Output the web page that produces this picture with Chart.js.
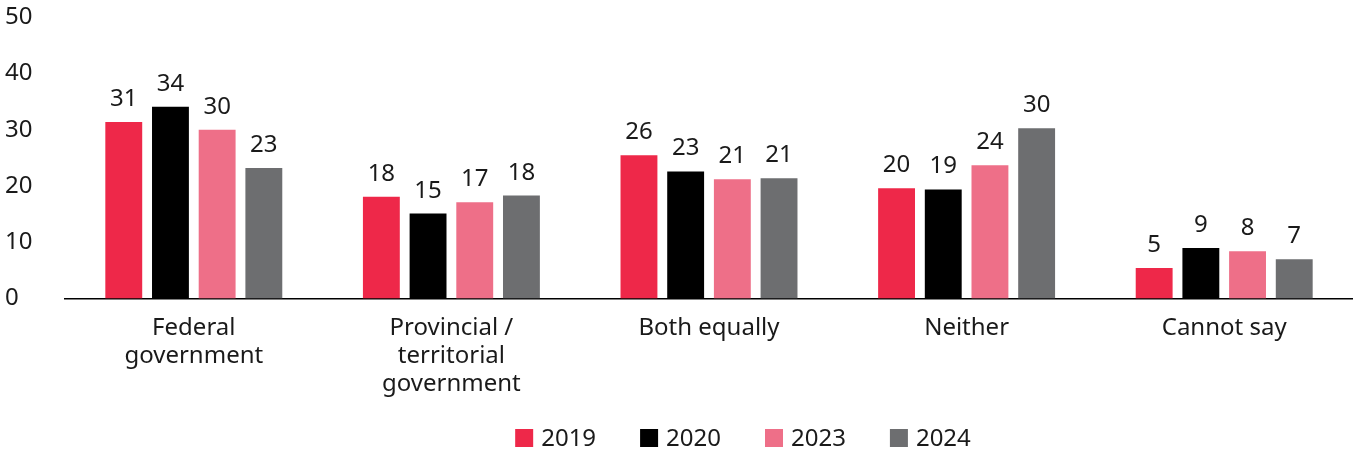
<!DOCTYPE html>
<html>
<head>
<meta charset="utf-8">
<script src="https://cdn.jsdelivr.net/npm/chart.js@4"></script>
<style>
    html, body { margin: 0; padding: 0; background: #fff; }
    .wrap { width: 1353px; height: 453px; }
</style>
</head>
<body>
<div class="wrap"><canvas id="govChart" width="1353" height="453"></canvas></div>
<script>
const categories = [
    ['Federal', 'government'],
    ['Provincial /', 'territorial', 'government'],
    'Both equally',
    'Neither',
    'Cannot say'
];
const years = ['2019', '2020', '2023', '2024'];
const values2019 = [31.4, 18.1, 25.5, 19.6, 5.4];
const values2020 = [34.1, 15.1, 22.6, 19.4, 9.0];
const values2023 = [30.0, 17.1, 21.2, 23.7, 8.4];
const values2024 = [23.2, 18.3, 21.4, 30.3, 7.0];
const yTicks = [0, 10, 20, 30, 40, 50];

const colors = ['#ee2849', '#000000', '#ee6f88', '#6d6e70'];
const fontFamily = '"Noto Sans", sans-serif';
const textColor = '#1a1a1a';

// value labels over each bar
const barLabels = {
    id: 'barLabels',
    afterDatasetsDraw(chart) {
        const ctx = chart.ctx;
        ctx.save();
        ctx.font = `24px ${fontFamily}`;
        ctx.fillStyle = textColor;
        ctx.textAlign = 'center';
        ctx.textBaseline = 'alphabetic';
        chart.data.datasets.forEach((ds, i) => {
            const meta = chart.getDatasetMeta(i);
            meta.data.forEach((bar, j) => {
                ctx.fillText(Math.round(ds.data[j]), bar.x, bar.y - 16);
            });
        });
        ctx.restore();
    }
};

// legend drawn by hand: the original spaces items wider than chart.js does
const bottomLegend = {
    id: 'bottomLegend',
    afterDraw(chart) {
        const ctx = chart.ctx;
        const box = 18, textGap = 8, itemGap = 44;
        const centerX = 743, centerY = 438;
        ctx.save();
        ctx.font = `24px ${fontFamily}`;
        ctx.textBaseline = 'middle';
        ctx.textAlign = 'left';
        const widths = chart.data.datasets.map(ds => box + textGap + ctx.measureText(ds.label).width);
        const total = widths.reduce((a, b) => a + b, 0) + itemGap * (widths.length - 1);
        let x = centerX - total / 2;
        chart.data.datasets.forEach((ds, i) => {
            ctx.fillStyle = ds.backgroundColor;
            ctx.fillRect(x, centerY - box / 2, box, box);
            ctx.fillStyle = textColor;
            ctx.fillText(ds.label, x + box + textGap, centerY + 1);
            x += widths[i] + itemGap;
        });
        ctx.restore();
    }
};

const ctx = document.getElementById('govChart').getContext('2d');
const govChart = new Chart(ctx, {
    type: 'bar',
    data: {
        labels: categories,
        datasets: [values2019, values2020, values2023, values2024].map((vals, i) => ({
            label: years[i],
            data: vals,
            backgroundColor: colors[i],
            borderWidth: 0,
            categoryPercentage: 0.725,
            barPercentage: 0.79
        }))
    },
    options: {
        responsive: false,
        animation: false,
        layout: {
            padding: { top: 6, left: 5, right: 0, bottom: 47 }
        },
        plugins: {
            legend: { display: false },
            tooltip: { enabled: false }
        },
        scales: {
            x: {
                grid: { display: false },
                border: { display: true, color: '#000', width: 1.5 },
                ticks: {
                    color: textColor,
                    maxRotation: 0,
                    autoSkip: false,
                    padding: 8,
                    font: { family: fontFamily, size: 24, lineHeight: 1.16 }
                }
            },
            y: {
                min: 0,
                max: 50,
                grid: { display: false },
                border: { display: false },
                afterBuildTicks(axis) {
                    axis.ticks = yTicks.map(v => ({ value: v }));
                },
                afterFit(axis) {
                    axis.width = 60;
                },
                ticks: {
                    color: textColor,
                    crossAlign: 'far',
                    font: { family: fontFamily, size: 24 }
                }
            }
        }
    },
    plugins: [barLabels, bottomLegend]
});
</script>
</body>
</html>
